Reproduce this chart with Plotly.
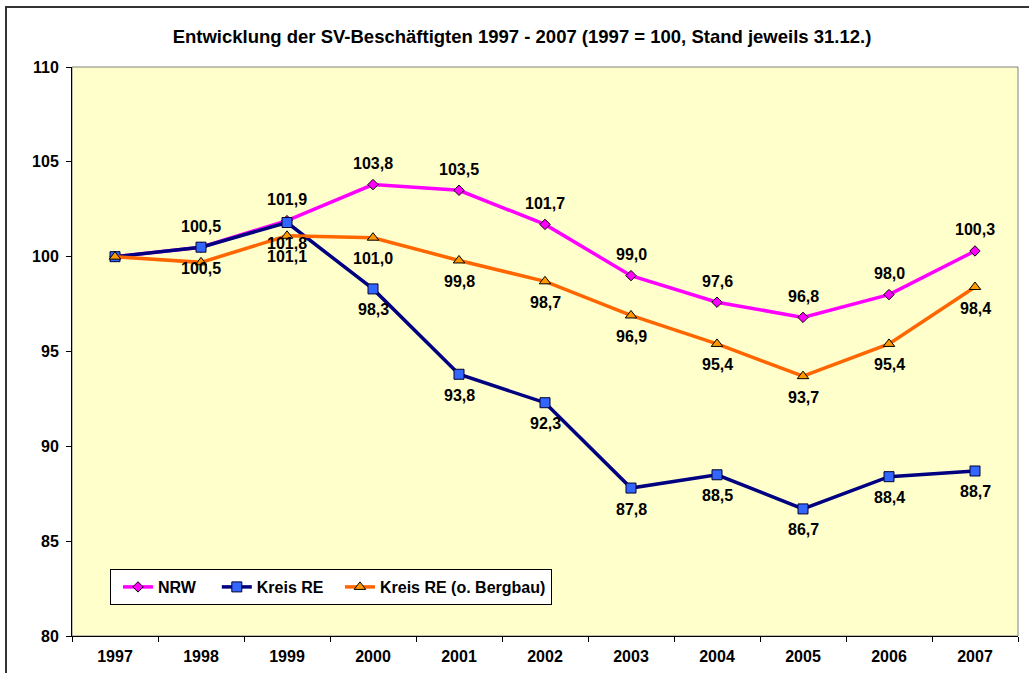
import plotly.graph_objects as go

years = ["1997", "1998", "1999", "2000", "2001", "2002", "2003", "2004", "2005", "2006", "2007"]
nrw = [100.0, 100.5, 101.9, 103.8, 103.5, 101.7, 99.0, 97.6, 96.8, 98.0, 100.3]
kreis_re = [100.0, 100.5, 101.8, 98.3, 93.8, 92.3, 87.8, 88.5, 86.7, 88.4, 88.7]
kreis_re_ob = [100.0, 99.7, 101.1, 101.0, 99.8, 98.7, 96.9, 95.4, 93.7, 95.4, 98.4]

# which points carry a value label (1997 has none; orange 1998 has none)
nrw_lab = [False] + [True] * 10
kre_lab = [False] + [True] * 10
kob_lab = [False, False] + [True] * 9

series_names = ["NRW", "Kreis RE", "Kreis RE (o. Bergbau)"]
title = "Entwicklung der SV-Beschäftigten 1997 - 2007 (1997 = 100, Stand jeweils 31.12.)"

FONT = "Arial, Liberation Sans, sans-serif"
W, H = 1029, 673
# plot area in window pixels
PX0, PX1, PY0, PY1 = 72, 1018, 67, 636
L, R, T, B = PX0, W - PX1, PY0, H - PY1
PW, PH = PX1 - PX0, PY1 - PY0

def px_to_paper_x(x):
    return (x - PX0) / PW

def px_to_paper_y(y):
    return (PY1 - y) / PH

fig = go.Figure()
fig.add_trace(go.Scatter(
    x=years, y=nrw, name=series_names[0] + "\u00a0\u00a0", mode="lines+markers",
    line=dict(color="#FF00FF", width=3.5),
    marker=dict(symbol="diamond", size=8, color="#FF00FF", line=dict(color="#000000", width=1)),
))
fig.add_trace(go.Scatter(
    x=years, y=kreis_re, name=series_names[1] + "\u00a0", mode="lines+markers",
    line=dict(color="#000080", width=3.5),
    marker=dict(symbol="square", size=10, color="#3366FF", line=dict(color="#000033", width=1)),
))
fig.add_trace(go.Scatter(
    x=years, y=kreis_re_ob, name=series_names[2], mode="lines+markers",
    line=dict(color="#FF6600", width=3.5),
    marker=dict(symbol="triangle-up", size=10, color="#FF9900", line=dict(color="#000000", width=1)),
))

def fmt(v):
    return f"{v:.1f}".replace(".", ",")

annotations = []
for vals, flags, shift in [(nrw, nrw_lab, 21), (kreis_re, kre_lab, -21), (kreis_re_ob, kob_lab, -21)]:
    for i, (v, f) in enumerate(zip(vals, flags)):
        if f:
            annotations.append(dict(
                x=i, y=v, xref="x", yref="y", text=fmt(v), showarrow=False,
                yshift=shift, font=dict(family=FONT, size=16, color="#000000", weight="bold"),
            ))

shapes = [
    dict(type="rect", xref="paper", yref="paper", x0=0, x1=1, y0=0, y1=1,
         line=dict(color="#808080", width=1), layer="below"),
    dict(type="rect", xref="paper", yref="paper",
         x0=px_to_paper_x(6), x1=px_to_paper_x(W + 20),
         y0=px_to_paper_y(H + 20), y1=px_to_paper_y(7),
         line=dict(color="#333333", width=2)),
]

fig.update_layout(
    width=W, height=H,
    margin=dict(l=L, r=R, t=T, b=B, autoexpand=False),
    paper_bgcolor="#FFFFFF",
    plot_bgcolor="#FFFFCC",
    font=dict(family=FONT, size=16, color="#000000"),
    title=dict(text=title, x=522 / W, xanchor="center",
               y=1 - 37 / H, yanchor="middle",
               font=dict(family=FONT, size=18.5, color="#000000", weight="bold")),
    xaxis=dict(type="category", tickson="boundaries", ticks="outside", ticklen=5,
               tickcolor="#000000", showline=True, linecolor="#000000", linewidth=1,
               showgrid=False, tickfont=dict(family=FONT, size=16, weight="bold"),
               ticklabelstandoff=6, range=[-0.5, 10.5]),
    yaxis=dict(range=[80, 110], dtick=5, ticks="outside", ticklen=5, tickcolor="#000000",
               showline=True, linecolor="#000000", linewidth=1, showgrid=False,
               zeroline=False, tickfont=dict(family=FONT, size=16, weight="bold"),
               ticklabelstandoff=4),
    legend=dict(orientation="h", x=px_to_paper_x(110), y=px_to_paper_y(569),
                xanchor="left", yanchor="top", bgcolor="#FFFFFF",
                bordercolor="#000000", borderwidth=1, indentation=7,
                font=dict(family=FONT, size=16, weight="bold"), itemwidth=30),
    showlegend=True,
    annotations=annotations,
    shapes=shapes,
)

fig.write_html("out.html", config={"displayModeBar": False},
               post_script="document.body.style.margin='0px';")
